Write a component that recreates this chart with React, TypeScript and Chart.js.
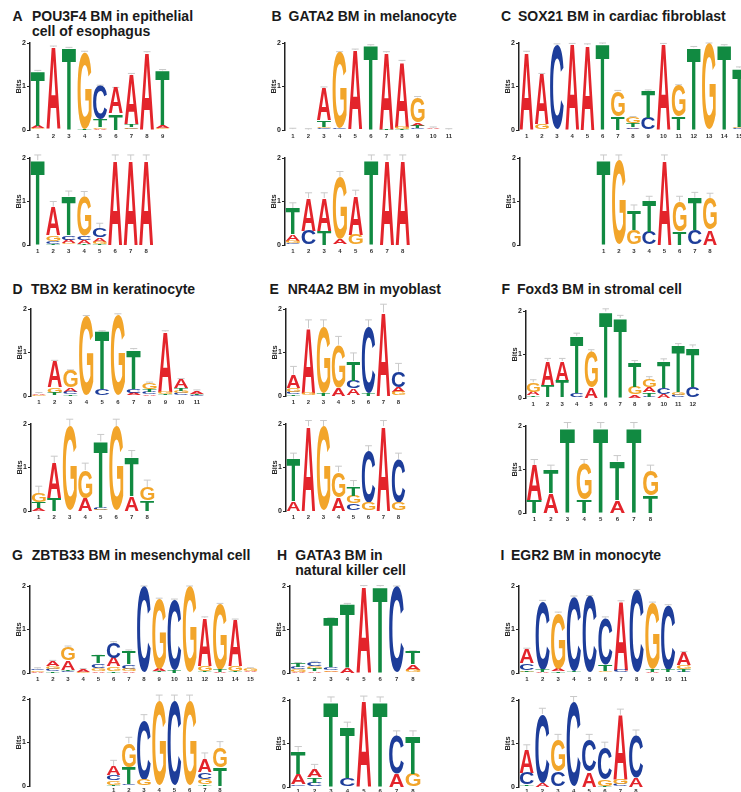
import React, { useEffect, useRef } from 'react';
import { Chart, registerables } from 'chart.js';

Chart.register(...registerables);

// ---------------- DATA (information content, bits) ----------------
// Positions (x-axis tick labels) are 1..n for every logo.
// A: POU3F4 BM in epithelial cell of esophagus
const aTopA = [0.06, 1.88, 0, 0.01, 0.03, 0.58, 1.14, 1.76, 0.07];
const aTopC = [0.02, 0.01, 0, 0, 0.77, 0, 0.04, 0, 0.02];
const aTopG = [0.02, 0.01, 0, 1.76, 0.03, 0, 0.03, 0, 0.03];
const aTopT = [1.25, 0.01, 1.88, 0.02, 0.18, 0.38, 0.07, 0.02, 1.25];
const aBotA = [0, 0.65, 0.08, 0.08, 0.1, 1.95, 1.95, 1.95];
const aBotC = [0, 0.07, 0.1, 0.1, 0.2, 0, 0, 0];
const aBotG = [0, 0.13, 0.04, 0.9, 0.05, 0, 0, 0];
const aBotT = [1.95, 0.03, 0.9, 0.03, 0.03, 0, 0, 0];

// B: GATA2 BM in melanocyte
const bTopA = [0.02, 0.01, 0.75, 0.02, 1.82, 0, 1.75, 1.5, 0.07, 0.03, 0.01];
const bTopC = [0, 0, 0.04, 0.02, 0, 0, 0, 0, 0.05, 0, 0];
const bTopG = [0, 0, 0.04, 1.74, 0, 0, 0, 0.05, 0.58, 0.02, 0];
const bTopT = [0, 0, 0.14, 0, 0.02, 1.94, 0.03, 0.03, 0.05, 0, 0];
const bBotA = [0.15, 0.75, 0.75, 0.12, 0.9, 0, 1.95, 1.95];
const bBotC = [0.04, 0.33, 0, 0, 0, 0, 0, 0];
const bBotG = [0.06, 0, 0, 1.43, 0.24, 0, 0, 0];
const bBotT = [0.6, 0, 0.33, 0.02, 0, 1.95, 0, 0];

// C: SOX21 BM in cardiac fibroblast
const cTopA = [1.77, 1.15, 0, 1.97, 1.96, 0, 0.01, 0.04, 0, 1.97, 0, 0, 0, 0, 0];
const cTopC = [0, 0, 1.96, 0, 0, 0, 0, 0.03, 0.28, 0, 0, 0, 0, 0, 0.04];
const cTopG = [0.02, 0.13, 0, 0, 0, 0, 0.57, 0.14, 0, 0, 0.71, 0, 1.98, 0, 0.04];
const cTopT = [0, 0, 0, 0, 0, 1.98, 0.31, 0.08, 0.62, 0, 0.31, 1.9, 0, 1.94, 1.35];
const cBotA = [0, 0, 0, 0, 1.95, 0, 0, 0.35];
const cBotC = [0, 0, 0.02, 0.3, 0, 0, 0.35, 0];
const cBotG = [0, 1.95, 0.33, 0, 0, 0.68, 0, 0.72];
const cBotT = [1.95, 0, 0.45, 0.7, 0, 0.32, 0.74, 0];

// D: TBX2 BM in keratinocyte
const dTopA = [0.03, 0.6, 0.1, 0, 0, 0, 0.05, 0.04, 1.38, 0.2, 0.07];
const dTopC = [0, 0.02, 0.06, 0, 0.14, 0, 0.1, 0.06, 0.02, 0.06, 0.02];
const dTopG = [0.02, 0.13, 0.38, 1.83, 0.01, 1.87, 0.02, 0.14, 0.05, 0.06, 0.01];
const dTopT = [0.01, 0.05, 0.04, 0, 1.33, 0, 0.9, 0.06, 0.03, 0.06, 0.02];
const dBotA = [0.07, 0.8, 0, 0.3, 0, 0, 0.35, 0];
const dBotC = [0, 0, 0, 0, 0.05, 0, 0, 0];
const dBotG = [0.2, 0, 1.95, 0.64, 0.03, 1.95, 0, 0.3];
const dBotT = [0.14, 0.3, 0, 0, 1.52, 0, 0.88, 0.25];

// E: NR4A2 BM in myoblast
const eTopA = [0.3, 1.5, 0, 0.2, 0.16, 0, 1.92, 0.12];
const eTopC = [0.05, 0, 0, 0, 0.17, 1.5, 0, 0.35];
const eTopG = [0.1, 0.06, 1.5, 0.98, 0.02, 0, 0, 0.09];
const eTopT = [0.04, 0, 0.06, 0, 0.45, 0.06, 0, 0];
const eBotA = [0.22, 1.95, 0, 0.32, 0, 0, 1.95, 0];
const eBotC = [0, 0, 0, 0, 0.17, 1.17, 0, 1.0];
const eBotG = [0, 0, 1.95, 0.58, 0.18, 0.2, 0, 0.2];
const eBotT = [0.98, 0, 0, 0, 0.22, 0, 0, 0];

// F: Foxd3 BM in stromal cell
const fTopA = [0.08, 0.57, 0.45, 0.02, 0.25, 0, 0.02, 0.08, 0.12, 0.1, 0.02, 0];
const fTopC = [0.02, 0.02, 0.02, 0.1, 0, 0, 0, 0, 0.03, 0.14, 0.05, 0.26];
const fTopG = [0.22, 0, 0, 0, 0.8, 0, 0, 0.17, 0.18, 0, 0.06, 0];
const fTopT = [0.04, 0.26, 0.38, 1.31, 0, 1.99, 1.82, 0.55, 0.1, 0.6, 1.06, 0.9];
const fBotA = [0.8, 0.45, 0, 0, 0, 0.29, 0, 0];
const fBotC = [0, 0, 0, 0, 0, 0, 0, 0];
const fBotG = [0, 0, 0, 0.8, 0, 0, 0, 0.57];
const fBotT = [0.3, 0.52, 1.95, 0.3, 1.95, 0.9, 1.95, 0.4];

// G: ZBTB33 BM in mesenchymal cell
const gTopA = [0.02, 0.12, 0.22, 0.05, 0.05, 0.2, 0.05, 0, 0.06, 0, 0, 1.1, 0.02, 1.06, 0.03];
const gTopC = [0.04, 0.05, 0.04, 0.01, 0.1, 0.35, 0.1, 1.98, 0.02, 1.6, 0, 0.02, 0.01, 0.02, 0.02];
const gTopG = [0.03, 0.06, 0.3, 0.02, 0.07, 0.1, 0.05, 0, 1.6, 0, 1.98, 0.12, 1.5, 0.12, 0.05];
const gTopT = [0.01, 0.04, 0.04, 0, 0.17, 0.05, 0.31, 0, 0.02, 0.08, 0, 0.03, 0.05, 0.02, 0];
const gBotA = [0.2, 0.02, 0, 0, 0, 0, 0.3, 0];
const gBotC = [0.12, 0.03, 1.35, 0, 1.95, 0, 0.15, 0];
const gBotG = [0.1, 0.55, 0.15, 1.95, 0, 1.95, 0.12, 0.46];
const gBotT = [0.03, 0.38, 0, 0, 0, 0, 0.05, 0.42];

// H: GATA3 BM in natural killer cell
const hTopA = [0.03, 0.04, 0.04, 0.12, 1.99, 0, 0, 0.12];
const hTopC = [0.06, 0.1, 0.06, 0, 0, 0, 1.98, 0];
const hTopG = [0.05, 0.06, 0.03, 0, 0, 0, 0, 0.08];
const hTopT = [0.08, 0.05, 1.12, 1.46, 0, 1.99, 0, 0.29];
const hBotA = [0.25, 0.17, 0, 0, 1.97, 0, 0.3, 0];
const hBotC = [0.04, 0.1, 0, 0.2, 0, 0, 0.87, 0];
const hBotG = [0.02, 0, 0, 0, 0, 0, 0, 0.3];
const hBotT = [0.5, 0.13, 1.95, 1.17, 0, 1.95, 0, 0.87];

// I: EGR2 BM in monocyte
const iTopA = [0.33, 0.02, 0.06, 0, 0.02, 0.02, 1.57, 0, 0.03, 0, 0.29];
const iTopC = [0.15, 1.57, 0.01, 1.7, 1.74, 1.07, 0.05, 1.9, 0, 1.47, 0.03];
const iTopG = [0.03, 0.01, 1.28, 0.02, 0, 0.03, 0, 0, 1.52, 0.02, 0.1];
const iTopT = [0.04, 0.05, 0.03, 0.03, 0, 0.15, 0.02, 0, 0.06, 0.06, 0.05];
const iBotA = [0.52, 0.1, 0, 0, 0.35, 0, 1.48, 0.22];
const iBotC = [0.26, 1.58, 0.35, 1.95, 0.73, 0.72, 0.06, 0.96];
const iBotG = [0.02, 0, 0.73, 0, 0, 0.15, 0.12, 0];
const iBotT = [0.04, 0, 0, 0, 0, 0.03, 0, 0];

// ---------------- STYLE / LAYOUT ----------------
const FONT = '"Liberation Sans", Arial, Helvetica, sans-serif';
const LETTERS = ['A', 'C', 'G', 'T'];
const COLORS: Record<string, string> = { A: '#e3242b', C: '#1d3d9a', G: '#f2a52a', T: '#118a41' };
const YW = 17; // y-axis box width
const PADT = 6;
const PLOT_H = 87; // 2 bits
const XH = 10;

type Spec = {
  key: string;
  A: number[]; C: number[]; G: number[]; T: number[];
  lead?: number;
  axisX: number; y2: number; step: number; err: number; tickPad?: number;
};

const SPECS: Spec[] = [
  { key: 'aT', A: aTopA, C: aTopC, G: aTopG, T: aTopT, axisX: 29.5, y2: 43.3, step: 15.6, err: 0.02 },
  { key: 'aB', A: aBotA, C: aBotC, G: aBotG, T: aBotT, axisX: 29.5, y2: 158.3, step: 15.5, err: 0.12 },
  { key: 'bT', A: bTopA, C: bTopC, G: bTopG, T: bTopT, axisX: 285.3, y2: 43.3, step: 15.6, err: 0.02 },
  { key: 'bB', A: bBotA, C: bBotC, G: bBotG, T: bBotT, axisX: 285.3, y2: 158.3, step: 15.7, err: 0.12 },
  { key: 'cT', A: cTopA, C: cTopC, G: cTopG, T: cTopT, axisX: 519, y2: 43.3, step: 15.2, err: 0.02 },
  { key: 'cB', A: cBotA, C: cBotC, G: cBotG, T: cBotT, lead: 5, axisX: 519.5, y2: 158.3, step: 15.2, err: 0.12 },
  { key: 'dT', A: dTopA, C: dTopC, G: dTopG, T: dTopT, axisX: 30.5, y2: 309.3, step: 15.8, err: 0.02 },
  { key: 'dB', A: dBotA, C: dBotC, G: dBotG, T: dBotT, axisX: 30.5, y2: 424.3, step: 15.5, err: 0.16 },
  { key: 'eT', A: eTopA, C: eTopC, G: eTopG, T: eTopT, axisX: 286.3, y2: 309.3, step: 15, err: 0.19 },
  { key: 'eB', A: eBotA, C: eBotC, G: eBotG, T: eBotT, axisX: 286.3, y2: 424.3, step: 15, err: 0.13 },
  { key: 'fT', A: fTopA, C: fTopC, G: fTopG, T: fTopT, axisX: 526.3, y2: 310.7, step: 14.5, err: 0.06 },
  { key: 'fB', A: fBotA, C: fBotC, G: fBotG, T: fBotT, axisX: 526.3, y2: 425.7, step: 16.6, err: 0.13 },
  { key: 'gT', A: gTopA, C: gTopC, G: gTopG, T: gTopT, axisX: 30, y2: 585.7, step: 15.2, err: 0.02 },
  { key: 'gB', A: gBotA, C: gBotC, G: gBotG, T: gBotT, lead: 5, axisX: 30, y2: 699.3, step: 15.2, err: 0.14, tickPad: 1 },
  { key: 'hT', A: hTopA, C: hTopC, G: hTopG, T: hTopT, axisX: 290, y2: 585.7, step: 16.4, err: 0.02 },
  { key: 'hB', A: hBotA, C: hBotC, G: hBotG, T: hBotT, axisX: 290, y2: 700, step: 16.4, err: 0.12, tickPad: 1 },
  { key: 'iT', A: iTopA, C: iTopC, G: iTopG, T: iTopT, axisX: 519, y2: 585.7, step: 15.7, err: 0.02 },
  { key: 'iB', A: iBotA, C: iBotC, G: iBotG, T: iBotT, axisX: 519, y2: 700, step: 15.6, err: 0.13, tickPad: 1 },
];

const TITLES = [
  { letter: 'A', lx: 12.5, tx: 32, top: 8.5, lines: ['POU3F4 BM in epithelial', 'cell of esophagus'] },
  { letter: 'B', lx: 271.5, tx: 288.5, top: 8.8, lines: ['GATA2 BM in melanocyte'] },
  { letter: 'C', lx: 501, tx: 518, top: 8.8, lines: ['SOX21 BM in cardiac fibroblast'] },
  { letter: 'D', lx: 12.5, tx: 31, top: 281.5, lines: ['TBX2 BM in keratinocyte'] },
  { letter: 'E', lx: 269.5, tx: 287.7, top: 281.5, lines: ['NR4A2 BM in myoblast'] },
  { letter: 'F', lx: 501.5, tx: 517, top: 281.5, lines: ['Foxd3 BM in stromal cell'] },
  { letter: 'G', lx: 12, tx: 31.7, top: 547.5, lines: ['ZBTB33 BM in mesenchymal cell'] },
  { letter: 'H', lx: 277, tx: 295.3, top: 547.5, lines: ['GATA3 BM in', 'natural killer cell'] },
  { letter: 'I', lx: 500.5, tx: 511, top: 547.5, lines: ['EGR2 BM in monocyte'] },
];

// ---------------- DRAWING ----------------
function drawLetter(ctx: CanvasRenderingContext2D, ch: string, x: number, top: number, w: number, h: number, color: string) {
  if (h < 0.25 || w <= 0) return;
  ctx.save();
  ctx.font = 'bold 100px ' + FONT;
  ctx.textAlign = 'left';
  ctx.textBaseline = 'alphabetic';
  const m = ctx.measureText(ch);
  const gw = m.actualBoundingBoxLeft + m.actualBoundingBoxRight;
  const gh = m.actualBoundingBoxAscent + m.actualBoundingBoxDescent;
  ctx.translate(x, top);
  ctx.scale(w / gw, h / gh);
  ctx.fillStyle = color;
  ctx.fillText(ch, m.actualBoundingBoxLeft, m.actualBoundingBoxAscent);
  ctx.restore();
}

const logoPlugin = {
  id: 'logo',
  afterDatasetsDraw(chart: any) {
    const { ctx, scales } = chart;
    const yS = scales.y;
    const xS = scales.x;
    const err = chart.options.plugins.logo.err;
    const n = chart.data.labels.length;
    const tops: number[] = new Array(n).fill(0);
    let barW = 10;
    chart.data.datasets.forEach((ds: any) => {
      ds.data.forEach((v: any, i: number) => {
        if (v) tops[i] = Math.max(tops[i], v[1]);
      });
    });
    const meta0 = chart.getDatasetMeta(0);
    if (meta0.data.length) barW = meta0.data[0].width || barW;
    // error bars
    ctx.save();
    ctx.strokeStyle = '#c9c9c9';
    ctx.lineWidth = 1;
    for (let i = 0; i < n; i++) {
      if (tops[i] <= 0.005) continue;
      const x = xS.getPixelForValue(i);
      const y1 = yS.getPixelForValue(tops[i]);
      const y2 = yS.getPixelForValue(tops[i] + err);
      ctx.beginPath();
      ctx.moveTo(x, y1);
      ctx.lineTo(x, y2);
      ctx.moveTo(x - barW * 0.25, y2);
      ctx.lineTo(x + barW * 0.25, y2);
      ctx.stroke();
    }
    ctx.restore();
    // letters
    chart.data.datasets.forEach((ds: any, di: number) => {
      const meta = chart.getDatasetMeta(di);
      meta.data.forEach((el: any, i: number) => {
        const v = ds.data[i];
        if (!v) return;
        const p = el.getProps(['x', 'y', 'base', 'width'], true);
        drawLetter(ctx, ds.label, p.x - p.width / 2, Math.min(p.y, p.base), p.width, Math.abs(p.base - p.y), COLORS[ds.label]);
      });
    });
  },
};

function Logo({ spec }: { spec: Spec }) {
  const ref = useRef<HTMLCanvasElement>(null);
  const lead = spec.lead || 0;
  const n = lead + spec.A.length;
  const width = Math.ceil(YW + n * spec.step + 3);
  const padR = width - YW - n * spec.step;
  const height = PADT + PLOT_H + XH;

  useEffect(() => {
    const ranges: Record<string, ([number, number] | null)[]> = { A: [], C: [], G: [], T: [] };
    for (let i = 0; i < lead; i++) LETTERS.forEach((L) => ranges[L].push(null));
    for (let j = 0; j < spec.A.length; j++) {
      const hs = LETTERS.map((L) => ({ L, h: (spec as any)[L][j] as number }));
      hs.sort((a, b) => a.h - b.h);
      let acc = 0;
      const tmp: Record<string, [number, number] | null> = {};
      hs.forEach(({ L, h }) => {
        tmp[L] = h > 0 ? [acc, acc + h] : null;
        acc += h;
      });
      LETTERS.forEach((L) => ranges[L].push(tmp[L]));
    }
    const labels: string[] = [];
    for (let i = 0; i < n; i++) labels.push(i < lead ? '' : String(i - lead + 1));

    const chart = new Chart(ref.current as HTMLCanvasElement, {
      type: 'bar',
      data: {
        labels,
        datasets: LETTERS.map((L) => ({
          label: L,
          data: ranges[L] as any,
          backgroundColor: 'rgba(0,0,0,0)',
          borderWidth: 0,
          grouped: false,
          categoryPercentage: 1,
          barPercentage: 0.9,
        })) as any,
      },
      options: {
        animation: false,
        responsive: false,
        maintainAspectRatio: false,
        events: [],
        layout: { padding: { top: PADT, right: padR, left: 0, bottom: 0 } },
        plugins: {
          legend: { display: false },
          tooltip: { enabled: false },
          logo: { err: spec.err },
        } as any,
        scales: {
          x: {
            type: 'category',
            offset: true,
            grid: { display: false, drawTicks: false },
            border: { display: false },
            ticks: {
              autoSkip: false,
              maxRotation: 0,
              minRotation: 0,
              padding: spec.tickPad ?? 3,
              color: '#333',
              font: { size: 6, weight: 'bold', family: FONT },
            },
            afterFit: (s: any) => { s.height = XH; },
          },
          y: {
            min: 0,
            max: 2,
            ticks: {
              stepSize: 1,
              padding: 1,
              color: '#222',
              font: { size: 7, weight: 'bold', family: FONT },
            },
            grid: { display: true, drawOnChartArea: false, drawTicks: true, tickLength: 3, color: '#222', lineWidth: 1 },
            border: { display: true, color: '#222', width: 1.5 },
            title: {
              display: true,
              text: 'Bits',
              color: '#222',
              padding: { top: 1, bottom: 0 },
              font: { size: 7.5, weight: 'bold', family: FONT },
            },
            afterFit: (s: any) => { s.width = YW; },
          },
        } as any,
      },
      plugins: [logoPlugin as any],
    });
    return () => chart.destroy();
  }, []);

  return (
    <canvas
      ref={ref}
      width={width}
      height={height}
      style={{ position: 'absolute', left: spec.axisX - YW, top: spec.y2 - PADT, width, height }}
    />
  );
}

export default function App() {
  return (
    <div
      style={{
        position: 'absolute',
        left: 0,
        top: 0,
        width: 741,
        height: 792,
        overflow: 'hidden',
        background: '#fff',
        fontFamily: FONT,
      }}
    >
      {TITLES.map((t) => (
        <React.Fragment key={t.letter}>
          <div style={{ position: 'absolute', left: t.lx, top: t.top, fontSize: 14, lineHeight: '15px', fontWeight: 'bold', color: '#1a1a1a', whiteSpace: 'nowrap' }}>
            {t.letter}
          </div>
          <div style={{ position: 'absolute', left: t.tx, top: t.top, fontSize: 14, lineHeight: '15px', fontWeight: 'bold', color: '#1a1a1a', whiteSpace: 'nowrap' }}>
            {t.lines.map((l, i) => (
              <div key={i}>{l}</div>
            ))}
          </div>
        </React.Fragment>
      ))}
      {SPECS.map((s) => (
        <Logo key={s.key} spec={s} />
      ))}
    </div>
  );
}
